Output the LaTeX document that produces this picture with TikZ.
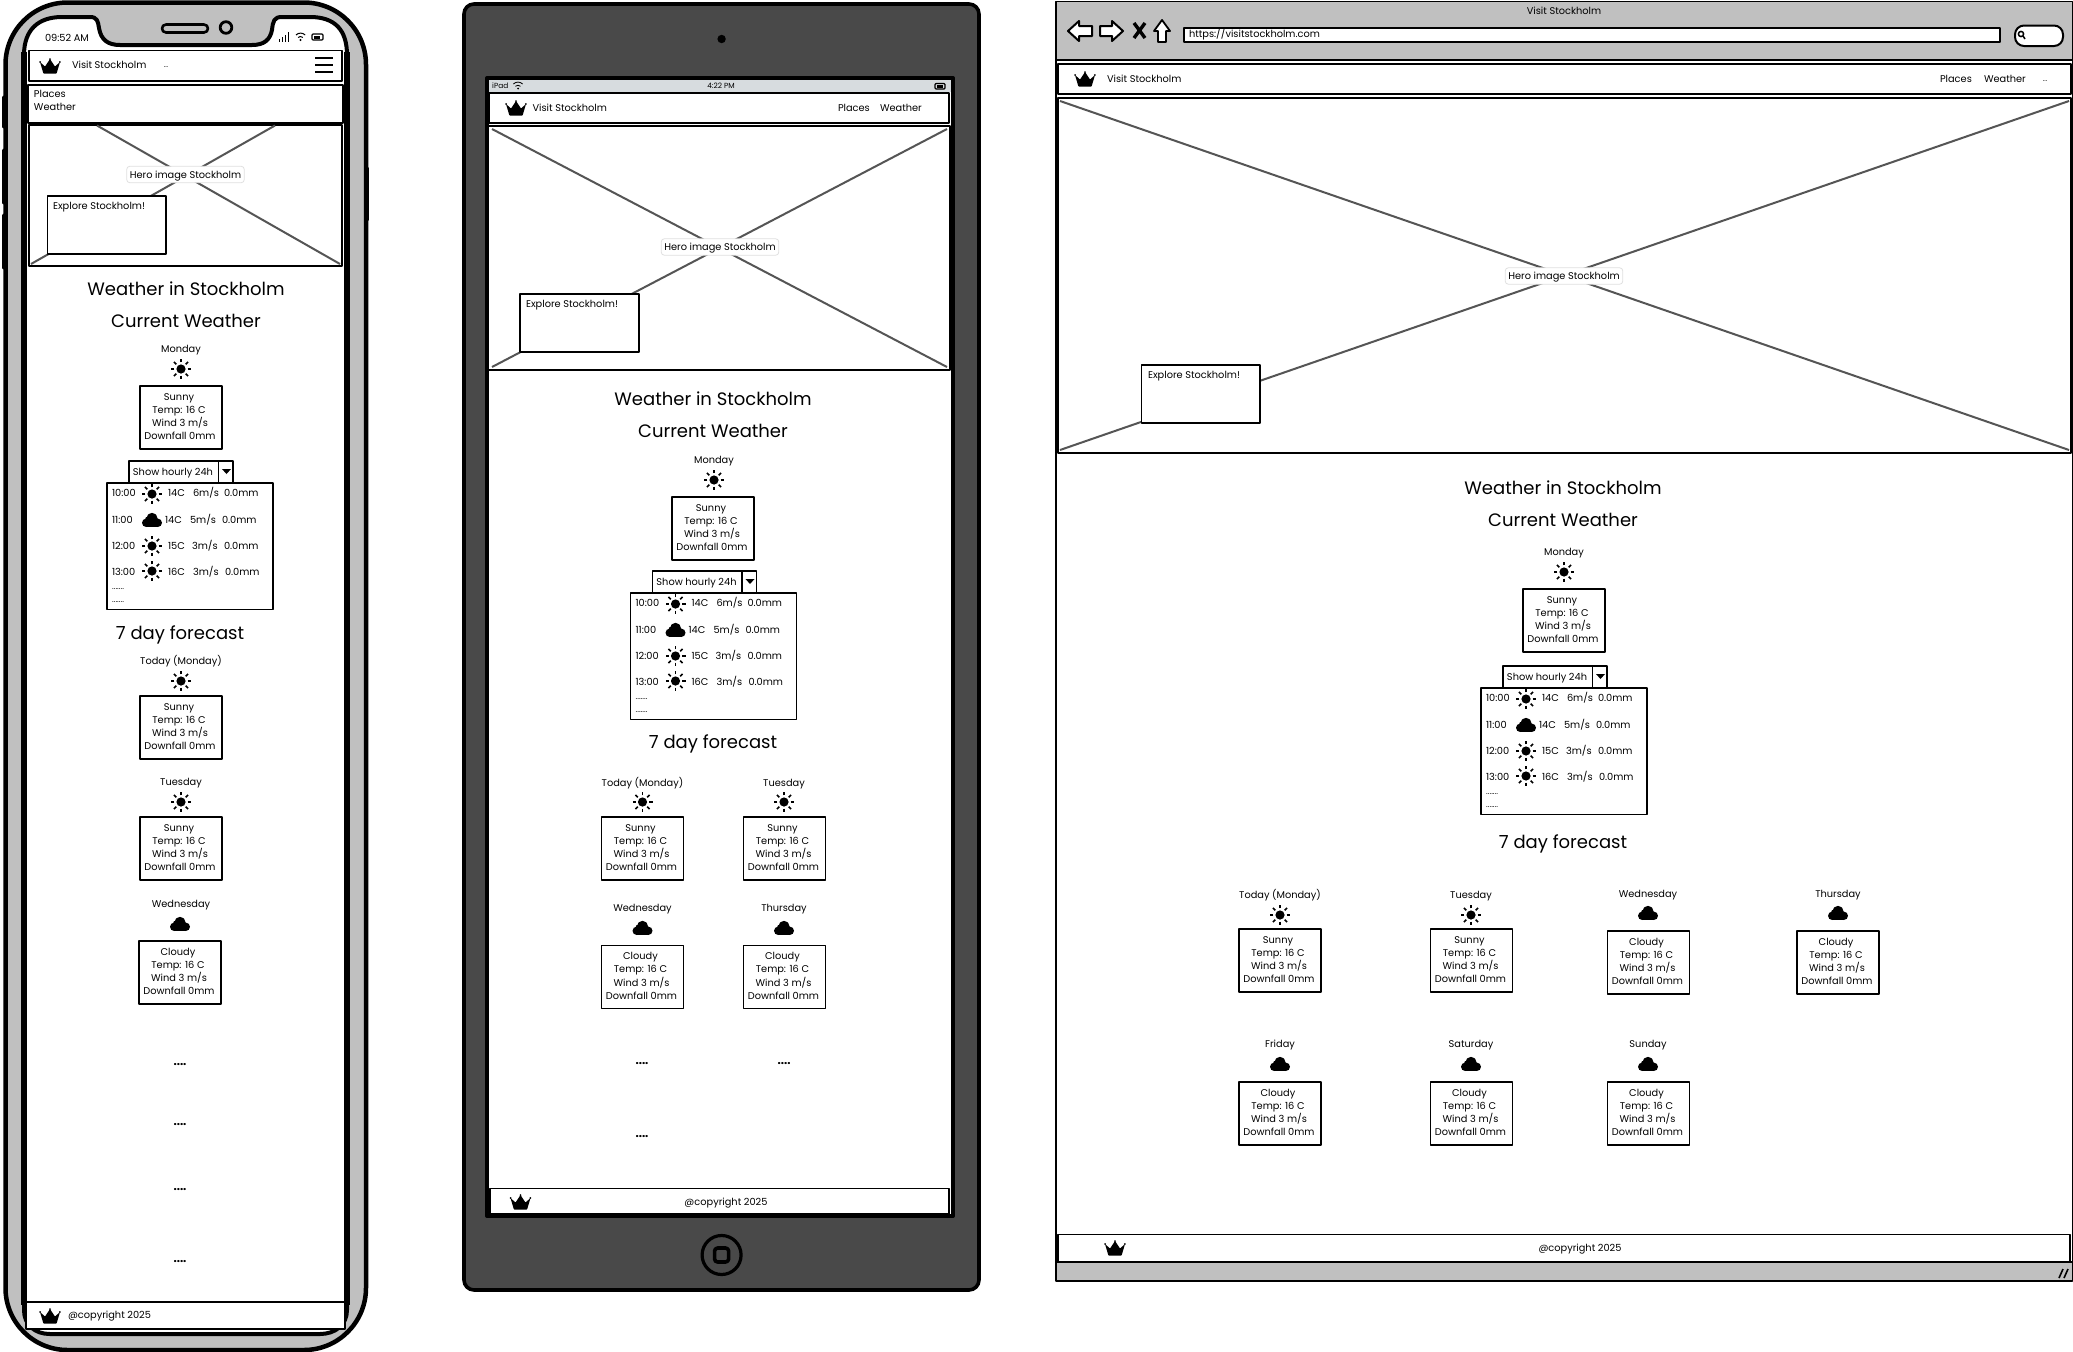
\documentclass[tikz,border=0pt]{standalone}
\usepackage{fontspec}
\setmainfont{Poppins}
\definecolor{phonegray}{HTML}{C0C0C0}
\definecolor{tabgray}{HTML}{494949}
\definecolor{statgray}{HTML}{D7DCDF}
\definecolor{xline}{HTML}{555555}
\newcounter{nid}
\tikzset{
  txt/.style={inner sep=0pt,outer sep=0pt,text height=9.4pt,text depth=2pt,font=\fontsize{9.8}{11}\selectfont},
  heading/.style={txt,text height=15pt,text depth=3pt,font=\fontsize{18}{20}\selectfont},
  wire/.style={draw=black,line width=1.8pt,fill=white},
  cardbox/.style={draw=black,line width=1.8pt,fill=white},
  xmark/.style={draw=xline,line width=2pt},
  herolabel/.style={txt,fill=white,draw=black!12,line width=.8pt,rounded corners=3pt,inner ysep=2.5pt,inner xsep=3pt,minimum width=116pt},
}
\newcommand\tx[4][]{\stepcounter{nid}\node[txt,#1] (n\arabic{nid}) at (#2,#3) {#4};}
\newcommand\hd[3]{\stepcounter{nid}\node[heading] (n\arabic{nid}) at (#1,#2) {#3};}
\newcommand\sunicon[2]{\begin{scope}[shift={(#1,#2)}]
  \fill (0,0) circle (4.6);
  \foreach \a in {0,45,...,315}{\draw[line width=1.5pt] (\a:6.6) -- (\a:10);}
\end{scope}}
\newcommand\cloudicon[2]{\begin{scope}[shift={(#1,#2)}]
  \fill (-5.8,2.8) circle (4.2) (5.8,2.8) circle (4.2) (0,-1.6) circle (5.6) (-4,-.5) circle (3);
  \fill (-5.8,-1) rectangle (5.8,7);
\end{scope}}
\newcommand\crownicon[2]{\begin{scope}[shift={(#1,#2)}]
  \fill[rounded corners=.6pt] (-10,-4) -- (-6.6,7.5) -- (6.6,7.5) -- (10,-4) -- (5,.5) -- (0,-7) -- (-5,.5) -- cycle;
  \fill (-9.8,-4) circle (1) (9.8,-4) circle (1) (0,-6.8) circle (1);
\end{scope}}
\newcommand\card[3]{\draw[cardbox] (#1,#2) rectangle ++(82,63);
  \tx{#1+39}{#2+10.5}{#3}\tx{#1+39}{#2+23.5}{Temp: 16 C}\tx{#1+40}{#2+37}{Wind 3 m/s}\tx{#1+40}{#2+50}{Downfall 0mm}}
\newcommand\daylabel[3]{\tx{#1}{#2}{#3}}
\newcommand\hourly[2]{\begin{scope}[shift={(#1,#2)}]
  \draw[wire,line width=1.4pt] (129,461) rectangle (233,483);
  \draw[line width=1.4pt] (218.5,461) -- (218.5,483);
  \fill (222,469) -- (231,469) -- (226.5,474) -- cycle;
  \tx{173}{471.5}{Show hourly 24h}
  \draw[wire] (107,483) rectangle (273,609.5);
  \tx[anchor=west]{112}{493}{10:00}\sunicon{152}{494}\tx[anchor=west]{168}{493}{14C}\tx[anchor=west]{193}{493}{6m/s}\tx[anchor=west]{224}{493}{0.0mm}
  \tx[anchor=west]{112}{520}{11:00}\cloudicon{152}{520}\tx[anchor=west]{165}{520}{14C}\tx[anchor=west]{190}{520}{5m/s}\tx[anchor=west]{222}{520}{0.0mm}
  \tx[anchor=west]{112}{546}{12:00}\sunicon{152}{546}\tx[anchor=west]{168}{546}{15C}\tx[anchor=west]{192}{546}{3m/s}\tx[anchor=west]{224}{546}{0.0mm}
  \tx[anchor=west]{112}{572}{13:00}\sunicon{152}{571}\tx[anchor=west]{168}{572}{16C}\tx[anchor=west]{193}{572}{3m/s}\tx[anchor=west]{225}{572}{0.0mm}
  \stepcounter{nid}\node[inner sep=0pt,anchor=west,font=\fontsize{8}{9}\selectfont] (n\arabic{nid}) at (112,589) {.......};
  \stepcounter{nid}\node[inner sep=0pt,anchor=west,font=\fontsize{8}{9}\selectfont] (n\arabic{nid}) at (112,602) {.......};
\end{scope}}
\newcommand\dotsrow[2]{\stepcounter{nid}\node[inner sep=0pt,font=\fontsize{11.5}{12}\bfseries\selectfont] (n\arabic{nid}) at (#1,#2) {....};}
\newcommand\navdots[2]{\stepcounter{nid}\node[inner sep=0pt,font=\fontsize{7}{8}\selectfont] (n\arabic{nid}) at (#1,#2) {...};}
\begin{document}
\begin{tikzpicture}[x=1pt,y=-1pt,line join=round]
\useasboundingbox (0,0) rectangle (2073,1352);
\fill[white] (0,0) rectangle (2073,1352);

% ============ phone ============
\foreach \ya/\yb in {97/127,150/203,215/268}{\draw[line width=3pt,line cap=round] (3.5,\ya) -- (3.5,\yb);}
\draw[line width=3pt,line cap=round] (367,168) -- (367,220);
\draw[fill=phonegray,line width=4.5pt,rounded corners=62pt] (5.5,2.5) rectangle (366,1350);
\draw[fill=white,line width=4pt]
  (24,1310) -- (24,55) .. controls (24,30) and (38,17) .. (62,17) -- (90,17)
  .. controls (97,17) and (98,21) .. (99,28) .. controls (101,40) and (108,45) .. (120,45)
  -- (252,45) .. controls (264,45) and (270,40) .. (272,30) .. controls (273,21) and (274,17) .. (282,17)
  -- (310,17) .. controls (335,17) and (347,30) .. (347,55) -- (347,1310)
  .. controls (347,1325) and (335,1334) .. (320,1334) -- (50,1334) .. controls (35,1334) and (24,1325) .. (24,1310) -- cycle;
\draw[line width=6pt] (24,52) -- (24,1305) (347,52) -- (347,1305);
\draw[fill=phonegray,line width=2.6pt,rounded corners=4pt] (162,24.5) rectangle (208,32.5);
\draw[fill=phonegray,line width=2.8pt] (226,27.5) circle (5.8);
\tx{67}{38}{09:52 AM}
\foreach \k in {0,1,2,3}{\draw[line width=.9pt] (279+\k*3.2,41.5) -- (279+\k*3.2,39-\k*2.2);}
\draw[line width=1pt] (296,35) arc (225:315:6.5) (298,37.5) arc (225:315:3.4);
\fill (300.5,40) circle (1.1);
\draw[line width=1.2pt,rounded corners=1pt] (312,34) rectangle (323,40);
\fill (313.5,35.5) rectangle (320,38.5);
\draw[wire] (29,50.5) rectangle (342,81);
\crownicon{50}{66}
\tx[anchor=west]{72}{65}{Visit Stockholm}
\navdots{166}{67}
\foreach \yy in {58,65,72}{\draw[line width=1.8pt] (315,\yy) -- (333,\yy);}
\draw[wire] (28,85) rectangle (343,123);
\tx[anchor=west]{34}{94}{Places}
\tx[anchor=west]{34}{107}{Weather}
\draw[wire] (29,125) rectangle (342,266);
\draw[xmark] (97,125.5) -- (340,264) (275,125.5) -- (31,264);
\tx[herolabel]{185.5}{174.5}{Hero image Stockholm}
\draw[cardbox] (47.5,196) rectangle (166,254);
\tx[anchor=west]{53}{206}{Explore Stockholm!}
\hd{186}{289}{Weather in Stockholm}
\hd{186}{321}{Current Weather}
\daylabel{181}{349}{Monday}\sunicon{181}{369}
\card{140}{386}{Sunny}
\hourly{0}{0}
\hd{180}{633}{7 day forecast}
\daylabel{181}{661}{Today (Monday)}\sunicon{181}{681}
\card{140}{696}{Sunny}
\daylabel{181}{782}{Tuesday}\sunicon{181}{802}
\card{140}{817}{Sunny}
\daylabel{181}{904}{Wednesday}\cloudicon{180}{924}
\card{139}{941}{Cloudy}
\dotsrow{180}{1065}\dotsrow{180}{1125}\dotsrow{180}{1190}\dotsrow{180}{1262}
\draw[draw=black,line width=1.4pt,fill=white] (26,1302) rectangle (345,1329);
\crownicon{50}{1316}
\tx[anchor=west]{68}{1315}{@copyright 2025}

% ============ tablet ============
\draw[fill=tabgray,line width=3.6pt,rounded corners=10pt] (464,4) rectangle (979,1290);
\fill (721.6,39) circle (4.2);
\draw[fill=white,line width=4pt] (487,78) rectangle (953,1216);
\fill[statgray] (489,80) rectangle (951,92);
\stepcounter{nid}\node[inner sep=0pt,font=\fontsize{7.4}{9}\selectfont,anchor=west] (n\arabic{nid}) at (492,85.5) {iPad};
\draw[line width=.8pt] (513.4,84) arc (225:315:6.5) (515.4,86.3) arc (225:315:3.6);
\fill (518,88.5) circle (1);
\stepcounter{nid}\node[inner sep=0pt,font=\fontsize{7.4}{9}\selectfont] (n\arabic{nid}) at (721,85.5) {4:22 PM};
\draw[line width=1.2pt,rounded corners=1pt] (935,83.5) rectangle (945,89);
\fill (936.5,85) rectangle (943,87.5);
\draw[wire,line width=1.6pt] (489,93) rectangle (949,123);
\crownicon{516}{108}
\tx[anchor=west]{532.5}{108}{Visit Stockholm}
\tx[anchor=west]{838}{108}{Places}
\tx[anchor=west]{880}{108}{Weather}
\draw[wire] (488,126) rectangle (950,370);
\draw[xmark] (492,129) -- (947,367) (947,129) -- (492,367);
\tx[herolabel]{720}{247}{Hero image Stockholm}
\draw[cardbox] (520,294) rectangle (639,352);
\tx[anchor=west]{526}{304}{Explore Stockholm!}
\hd{713}{399}{Weather in Stockholm}
\hd{713}{431}{Current Weather}
\daylabel{714}{460}{Monday}\sunicon{714}{480}
\card{672}{497}{Sunny}
\hourly{523.5}{110}
\hd{713}{742}{7 day forecast}
\daylabel{642.5}{783}{Today (Monday)}\sunicon{642.5}{802}
\card{601.5}{817}{Sunny}
\daylabel{784}{783}{Tuesday}\sunicon{784}{802}
\card{743.5}{817}{Sunny}
\daylabel{642.5}{908}{Wednesday}\cloudicon{642.5}{928}
\card{601.5}{945.5}{Cloudy}
\daylabel{784}{908}{Thursday}\cloudicon{784}{928}
\card{743.5}{945.5}{Cloudy}
\dotsrow{642}{1064}\dotsrow{784}{1064}\dotsrow{642}{1137}
\draw[draw=black,line width=1.4pt,fill=white] (490,1188.5) rectangle (949,1214);
\crownicon{520.5}{1202}
\tx{726}{1202}{@copyright 2025}
\draw[line width=3.2pt] (721.6,1255) circle (19.5);
\draw[line width=3.6pt,rounded corners=3pt] (714.6,1248) rectangle (728.6,1262);

% ============ browser ============
\draw[fill=phonegray,line width=1.8pt] (1056,1.5) rectangle (2072.5,1281);
\draw[fill=white,line width=1.6pt] (1056,60) rectangle (2072.5,1262);
\tx{1564}{11}{Visit Stockholm}
\draw[fill=white,line width=2pt] (1068,31) -- (1079,21) -- (1079,26) -- (1092,26) -- (1092,36) -- (1079,36) -- (1079,41) -- cycle;
\draw[fill=white,line width=2pt] (1123,31) -- (1112,21) -- (1112,26) -- (1100,26) -- (1100,36) -- (1112,36) -- (1112,41) -- cycle;
\draw[line width=3.4pt] (1134,23) -- (1145,38) (1145,23) -- (1134,38);
\draw[fill=white,line width=1.8pt] (1162,20) -- (1170,31) -- (1166,31) -- (1166,42) -- (1158,42) -- (1158,31) -- (1154,31) -- cycle;
\draw[fill=white,line width=2pt] (1184,28) rectangle (2000,42);
\tx[anchor=west]{1189}{34}{https://visitstockholm.com}
\draw[fill=white,line width=2pt,rounded corners=9pt] (2015,25.5) rectangle (2063,46);
\draw[line width=1.5pt] (2021,34) circle (2.6);
\draw[line width=1.5pt] (2023,36) -- (2025,39);
\draw[wire,line width=1.6pt] (1058,64) rectangle (2071,94);
\crownicon{1085}{79}
\tx[anchor=west]{1107}{79}{Visit Stockholm}
\tx[anchor=west]{1940}{79}{Places}
\tx[anchor=west]{1984}{79}{Weather}
\navdots{2045}{81}
\draw[wire] (1058,98) rectangle (2071,453);
\draw[xmark] (1060,450) -- (2069,101) (1060,101) -- (2069,450);
\tx[herolabel]{1564}{276}{Hero image Stockholm}
\draw[cardbox] (1141.5,365) rectangle (1260,423);
\tx[anchor=west]{1148}{375}{Explore Stockholm!}
\hd{1563}{488}{Weather in Stockholm}
\hd{1563}{520}{Current Weather}
\daylabel{1564}{552}{Monday}\sunicon{1564}{572}
\card{1523}{589}{Sunny}
\hourly{1374}{205}
\hd{1563}{842}{7 day forecast}
\daylabel{1280}{895}{Today (Monday)}\sunicon{1280}{915}
\card{1239}{929}{Sunny}
\daylabel{1471}{895}{Tuesday}\sunicon{1471}{915}
\card{1430.5}{929}{Sunny}
\daylabel{1648}{894}{Wednesday}\cloudicon{1648}{913}
\card{1607.5}{931}{Cloudy}
\daylabel{1838}{894}{Thursday}\cloudicon{1838}{913}
\card{1797}{931}{Cloudy}
\daylabel{1280}{1044}{Friday}\cloudicon{1280}{1064}
\card{1239}{1082}{Cloudy}
\daylabel{1471}{1044}{Saturday}\cloudicon{1471}{1064}
\card{1430.5}{1082}{Cloudy}
\daylabel{1648}{1044}{Sunday}\cloudicon{1648}{1064}
\card{1607.5}{1082}{Cloudy}
\draw[draw=black,line width=1.4pt,fill=white] (1058,1234.5) rectangle (2070,1262);
\crownicon{1115}{1248}
\tx{1580}{1248}{@copyright 2025}
\draw[line width=1.6pt] (2059,1278) -- (2063,1269) (2064,1278) -- (2068,1269);
\end{tikzpicture}
\end{document}
